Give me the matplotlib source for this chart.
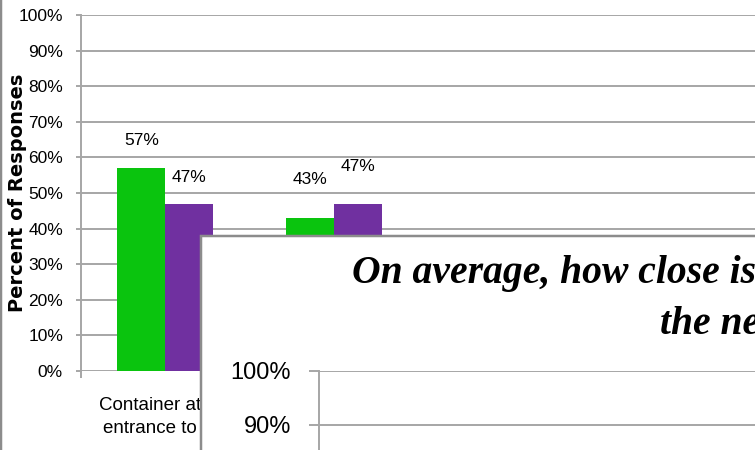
import numpy as np
import matplotlib
matplotlib.use('Agg')
import matplotlib.pyplot as plt
from matplotlib.patches import Rectangle
from matplotlib.lines import Line2D

# visible part of the chart
categories = ['Container at the\nentrance to the', 'Container inside\nthe facility']
green_vals = [57, 43]
purple_vals = [47, 47]
y_ticks = list(range(0, 101, 10))

# second chart pasted over the first one (only its top shows)
inner_title_1 = 'On average, how close is the'
inner_title_2 = 'the nearest'
inner_ticks = list(range(0, 101, 10))

# label lift above bar top, in pixels
lift = [[28, 26], [38, 37]]

W, H = 755, 450
PT = 72 / 100  # points per pixel at dpi 100


def box(l, t, r, b):
    return [l / W, 1 - b / H, (r - l) / W, (b - t) / H]


sans = ['Liberation Sans', 'DejaVu Sans']
grid_c = '#a6a6a6'
green = '#0AC40E'
purple = '#7030A0'

fig = plt.figure(figsize=(W / 100, H / 100), dpi=100)

ax = fig.add_axes(box(81, 15, 755, 371))
x = np.arange(len(categories))
bw = 0.284
ax.bar(x - bw / 2, green_vals, bw, color=green, zorder=2)
ax.bar(x + bw / 2, purple_vals, bw, color=purple, zorder=2)

for i in range(len(categories)):
    for j, (vals, off) in enumerate([(green_vals, -bw / 2), (purple_vals, bw / 2)]):
        ax.annotate(f'{vals[i]}%', (x[i] + off, vals[i]),
                    xytext=(0, lift[i][j] * PT), textcoords='offset points',
                    ha='center', va='center', fontsize=12.5, family=sans)

ax.set_xlim(-0.5, 3.49)
ax.set_ylim(0, 100)
ax.set_yticks(y_ticks)
ax.set_yticklabels([f'{v}%' for v in y_ticks], family=sans)
ax.yaxis.grid(True, color=grid_c, lw=1.4)
ax.set_axisbelow(True)
for s in ['top', 'right', 'bottom']:
    ax.spines[s].set_visible(False)
ax.spines['left'].set_color(grid_c)
ax.spines['left'].set_linewidth(1.4)
ax.tick_params(axis='y', length=5 * PT, width=1.4, color=grid_c,
               pad=13 * PT, labelsize=12.5)
ax.set_xticks(x)
ax.set_xticklabels(categories, family=sans, fontsize=13.5, linespacing=1.45)
ax.tick_params(axis='x', which='major', length=0, pad=19)
ax.set_xticks(np.arange(-0.5, 3.5, 1), minor=True)
ax.tick_params(axis='x', which='minor', length=7 * PT, width=1.4, color=grid_c)

fig.text(18 / W, 1 - 193 / H, 'Percent of Responses', rotation=90,
         ha='center', va='center', fontsize=14, fontweight='bold',
         family='DejaVu Sans')

# outer frame on the left edge
fig.add_artist(Line2D([1 / W, 1 / W], [0, 1], transform=fig.transFigure,
                      color='#8c8c8c', lw=2.5 * PT))

# overlaid second chart
fig.add_artist(Rectangle((201 / W, -0.1), 1, (H - 235.5) / H + 0.1,
                         transform=fig.transFigure, facecolor='white',
                         edgecolor='#8c8c8c', lw=2.5 * PT, zorder=5))

ax2 = fig.add_axes(box(319, 371, 1100, 911), zorder=6)
ax2.patch.set_visible(False)
ax2.set_ylim(0, 100)
ax2.set_xlim(0, 1)
ax2.set_yticks(inner_ticks)
ax2.set_yticklabels([f'{v}%' for v in inner_ticks], family=sans)
ax2.yaxis.grid(True, color=grid_c, lw=1.4)
for s in ['top', 'right', 'bottom']:
    ax2.spines[s].set_visible(False)
ax2.spines['left'].set_color(grid_c)
ax2.spines['left'].set_linewidth(1.4)
ax2.tick_params(axis='y', length=10 * PT, width=1.4, color=grid_c,
                pad=18 * PT, labelsize=17)
ax2.set_xticks([])

title_kw = dict(family='Liberation Serif', fontweight='bold', style='italic',
                fontsize=28.5, va='baseline', ha='left', zorder=7)
fig.text(352 / W, 1 - 283 / H, inner_title_1, **title_kw)
fig.text(660 / W, 1 - 334 / H, inner_title_2, **title_kw)

fig.savefig('out.png', dpi=100)
